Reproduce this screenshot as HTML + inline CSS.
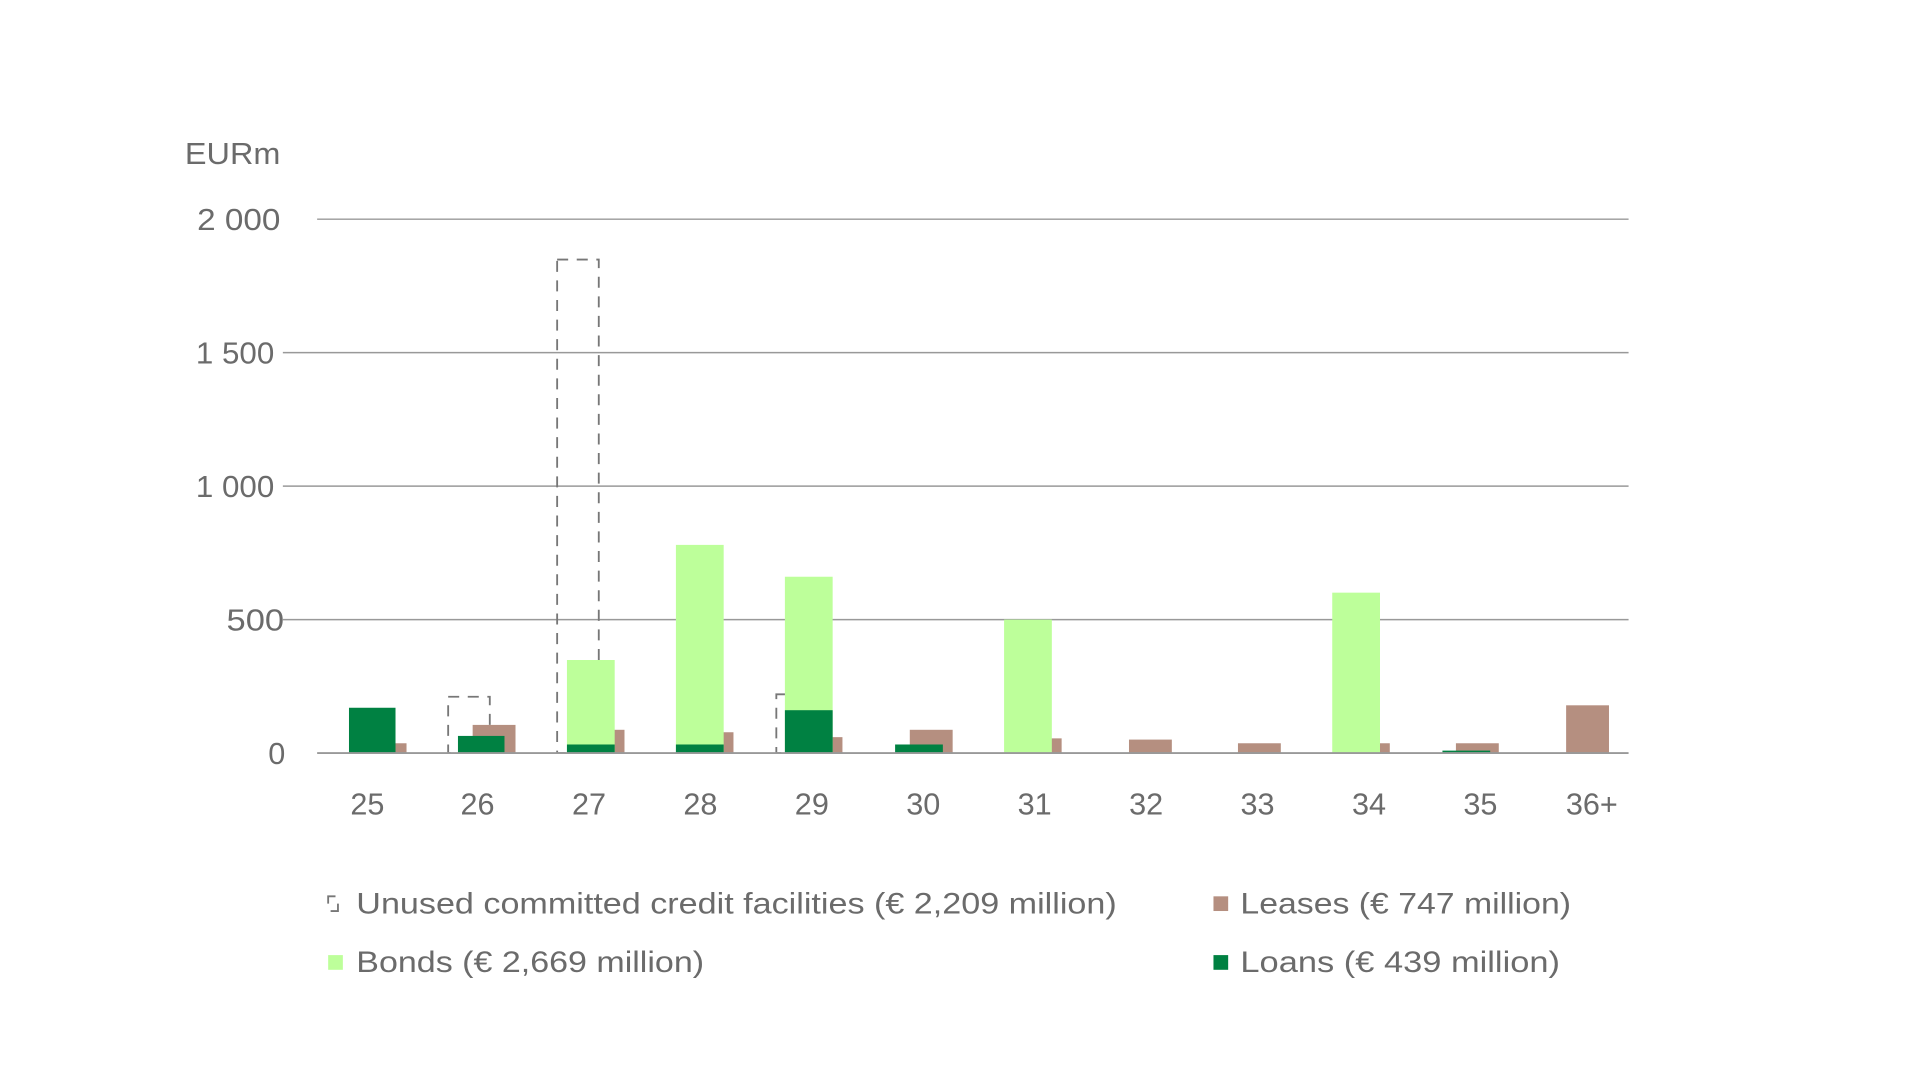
<!DOCTYPE html>
<html><head><meta charset="utf-8"><style>
html,body{margin:0;padding:0;background:#fff;width:1920px;height:1080px;overflow:hidden}
svg{display:block}
text{font-family:"Liberation Sans",sans-serif;fill:#6b6b6b}
</style></head><body>
<svg width="1920" height="1080" viewBox="0 0 1568 882">
<g font-size="25">
<text x="151" y="134" textLength="78" lengthAdjust="spacingAndGlyphs">EURm</text>
<g text-anchor="end">
<text x="229" y="188" textLength="68" lengthAdjust="spacingAndGlyphs">2 000</text>
<text x="224" y="297" textLength="64" lengthAdjust="spacingAndGlyphs">1 500</text>
<text x="224" y="406" textLength="64" lengthAdjust="spacingAndGlyphs">1 000</text>
<text x="232" y="515" textLength="47" lengthAdjust="spacingAndGlyphs">500</text>
<text x="233" y="624">0</text>
</g>
</g>
<g stroke="#999" stroke-width="1.2">
<line x1="259" y1="179" x2="1330" y2="179"/>
<line x1="231" y1="288" x2="1330" y2="288"/>
<line x1="231" y1="397" x2="1330" y2="397"/>
<line x1="231" y1="506" x2="1330" y2="506"/>
</g>
<g fill="none" stroke="#777" stroke-width="1.5" stroke-dasharray="9,7">
<rect x="366" y="569" width="34" height="46"/>
<rect x="455" y="212" width="34" height="403"/>
<rect x="634" y="567" width="34" height="48"/>
</g>
<g fill="#b58f80">
<rect x="319" y="607" width="13" height="8"/>
<rect x="386" y="592" width="35" height="23"/>
<rect x="477" y="596" width="33" height="19"/>
<rect x="568" y="598" width="31" height="17"/>
<rect x="659" y="602" width="29" height="13"/>
<rect x="743" y="596" width="35" height="19"/>
<rect x="834" y="603" width="33" height="12"/>
<rect x="922" y="604" width="35" height="11"/>
<rect x="1011" y="607" width="35" height="8"/>
<rect x="1102" y="607" width="33" height="8"/>
<rect x="1189" y="607" width="35" height="8"/>
<rect x="1279" y="576" width="35" height="39"/>
</g>
<g fill="#bdff9a">
<rect x="463" y="539" width="39" height="76"/>
<rect x="552" y="445" width="39" height="170"/>
<rect x="641" y="471" width="39" height="144"/>
<rect x="820" y="506" width="39" height="109"/>
<rect x="1088" y="484" width="39" height="131"/>
</g>
<g fill="#008142">
<rect x="285" y="578" width="38" height="37"/>
<rect x="374" y="601" width="38" height="14"/>
<rect x="463" y="608" width="39" height="7"/>
<rect x="552" y="608" width="39" height="7"/>
<rect x="641" y="580" width="39" height="35"/>
<rect x="731" y="608" width="39" height="7"/>
<rect x="1178" y="613" width="39" height="2"/>
</g>
<line x1="259" y1="615" x2="1330" y2="615" stroke="#999" stroke-width="1.5"/>
<g font-size="25" text-anchor="middle">
<text x="300" y="665">25</text><text x="390" y="665">26</text><text x="481" y="665">27</text>
<text x="572" y="665">28</text><text x="663" y="665">29</text><text x="754" y="665">30</text>
<text x="845" y="665">31</text><text x="936" y="665">32</text><text x="1027" y="665">33</text>
<text x="1118" y="665">34</text><text x="1209" y="665">35</text><text x="1300" y="665">36+</text>
</g>
<g font-size="24">
<path d="M268 738 V732 H274 M276 738 V744 H270" fill="none" stroke="#777" stroke-width="1.5"/>
<text x="291" y="746" textLength="621" lengthAdjust="spacingAndGlyphs">Unused committed credit facilities (€ 2,209 million)</text>
<rect x="991" y="732" width="12" height="12" fill="#b58f80"/>
<text x="1013" y="746" textLength="270" lengthAdjust="spacingAndGlyphs">Leases (€ 747 million)</text>
<rect x="268" y="780" width="12" height="12" fill="#bdff9a"/>
<text x="291" y="794" textLength="284" lengthAdjust="spacingAndGlyphs">Bonds (€ 2,669 million)</text>
<rect x="991" y="780" width="12" height="12" fill="#008142"/>
<text x="1013" y="794" textLength="261" lengthAdjust="spacingAndGlyphs">Loans (€ 439 million)</text>
</g>
</svg>
</body></html>
